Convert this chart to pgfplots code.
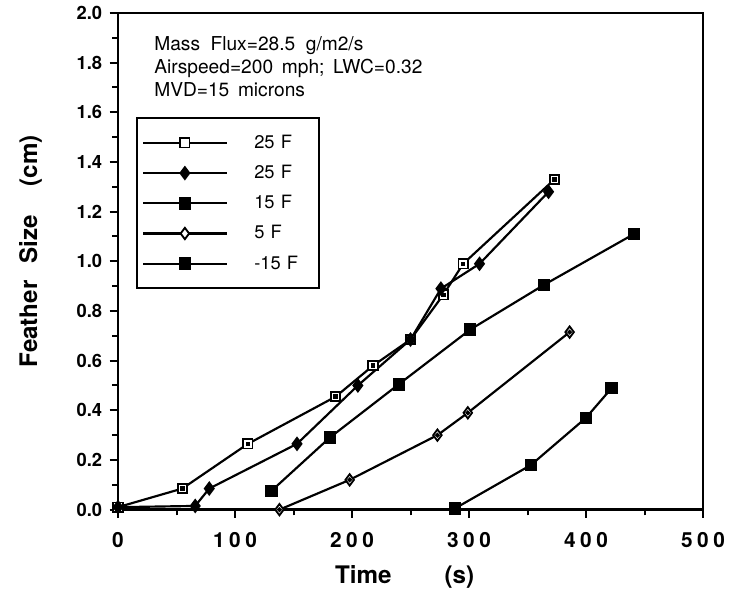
\documentclass[border=0pt]{standalone}
\usepackage{pgfplots}
\pgfplotsset{compat=1.18}
\usepackage{fontspec}
\setmainfont{TeX Gyre Heros}
\newfontfamily\xtickfont[LetterSpace=22]{TeX Gyre Heros}

\begin{document}
\begin{tikzpicture}
\begin{axis}[
  scale only axis,
  width=351pt, height=298pt,
  xmin=0, xmax=500, ymin=0, ymax=2,
  xtick={0,100,...,500}, ytick={0,0.2,...,2.0},
  minor x tick num=1, minor y tick num=1,
  tick align=outside,
  xtick pos=bottom, ytick pos=left,
  major tick length=5pt, minor tick length=3.5pt,
  every tick/.style={black, line width=1.2pt},
  axis line style={line width=1.6pt},
  /pgf/number format/assume math mode=true,
  yticklabel style={/pgf/number format/fixed, /pgf/number format/fixed zerofill, /pgf/number format/precision=1,
    font=\fontsize{11}{13}\selectfont\bfseries, xshift=-1pt},
  xticklabel style={font=\xtickfont\fontsize{12.5}{14}\selectfont\bfseries, yshift=-5pt},
  xlabel={Time\hspace{2.2em}(s)},
  ylabel={Feather\hspace{0.7em}Size\hspace{1.2em}(cm)},
  xlabel style={font=\fontsize{14.5}{16}\selectfont\bfseries, at={(ticklabel cs:0.49)}, yshift=-4pt},
  ylabel style={font=\fontsize{14.5}{17}\selectfont\bfseries, at={(ticklabel cs:0.52)}, yshift=14pt},
  legend image code/.code={\draw[mark repeat=2, mark phase=2, #1] plot coordinates {(0pt,0pt) (25pt,0pt) (50pt,0pt)};},
  legend style={at={(axis description cs:0.031,0.79)}, anchor=north west,
    draw=black, line width=1.2pt, font=\fontsize{11}{13}\selectfont,
    inner xsep=3pt, inner ysep=8pt, row sep=4.6pt,
    /tikz/every odd column/.append style={column sep=14pt},
    /tikz/every even column/.append style={text width=34pt}},
  legend cell align=left,
  every axis plot/.append style={line width=1.3pt, black},
]
\addplot [mark=square*, mark size=2.8pt, mark options={fill=white, line width=1.1pt}] coordinates {
  (0,0.01) (55,0.085) (111,0.265) (186,0.455) (218,0.58) (250,0.685) (278,0.865) (295,0.99) (373,1.33)
};
\addlegendentry{25 F}
\addplot [mark=diamond*, mark size=3.4pt] coordinates {
  (0,0.01) (66,0.015) (78,0.085) (153,0.265) (205,0.50) (250,0.685) (276,0.89) (309,0.99) (368,1.28)
};
\addlegendentry{25 F}
\addplot [mark=square*, mark size=3.1pt] coordinates {
  (131,0.075) (181,0.29) (240,0.505) (301,0.725) (364,0.905) (441,1.11)
};
\addlegendentry{15 F}
\addplot [mark=diamond*, mark size=3.4pt, mark options={fill=white, line width=1.1pt}] coordinates {
  (138,0) (198,0.12) (273,0.30) (299,0.39) (386,0.715)
};
\addlegendentry{5 F}
\addplot [mark=square*, mark size=3.1pt] coordinates {
  (288,0.005) (353,0.18) (400,0.37) (422,0.49)
};
\addlegendentry{-15 F}
% small dots in the centre of the open marks
\addplot [forget plot, only marks, mark=square*, mark size=0.7pt] coordinates {
  (0,0.01) (55,0.085) (111,0.265) (186,0.455) (218,0.58) (278,0.865) (295,0.99) (373,1.33)
};
\addplot [forget plot, only marks, mark=*, mark size=0.7pt] coordinates {
  (138,0) (198,0.12) (273,0.30) (299,0.39) (386,0.715)
};
\node [anchor=north west, align=left, font=\fontsize{11.5}{13.8}\selectfont]
  at (axis description cs:0.052,0.965)
  {Mass\hspace{0.55em}Flux=28.5\hspace{0.55em}g/m2/s\\
   Airspeed=200\hspace{0.45em}mph;\hspace{0.45em}LWC=0.32\\
   MVD=15\hspace{0.45em}microns};
\end{axis}
\path ([shift={(-70.8pt,-46.8pt)}]current axis.south west) rectangle ([shift={(16.8pt,7.8pt)}]current axis.north east);
\end{tikzpicture}
\end{document}
